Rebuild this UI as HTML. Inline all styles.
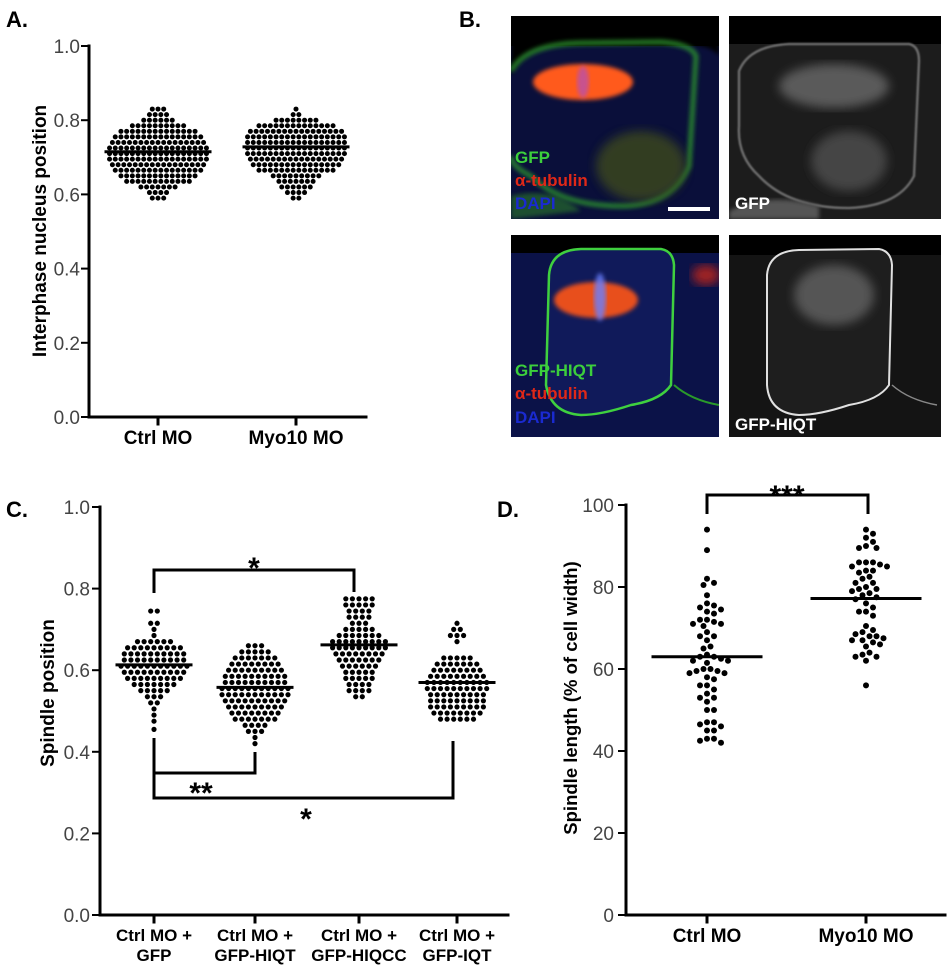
<!DOCTYPE html>
<html><head><meta charset="utf-8">
<style>
html,body{margin:0;padding:0;background:#fff;}
svg{display:block;font-family:"Liberation Sans",Arial,sans-serif;}
</style></head>
<body>
<svg id="fig" width="949" height="974" viewBox="0 0 949 974" xmlns="http://www.w3.org/2000/svg">
<defs>
<filter id="blur2"><feGaussianBlur stdDeviation="2"/></filter>
<filter id="blur5"><feGaussianBlur stdDeviation="5"/></filter>
<filter id="blur1"><feGaussianBlur stdDeviation="0.8"/></filter>
</defs>
<rect width="949" height="974" fill="#fff"/>
<text x="6" y="27" font-size="22" font-weight="bold">A.</text>
<text x="459" y="27" font-size="22" font-weight="bold">B.</text>
<text x="6" y="517" font-size="22" font-weight="bold">C.</text>
<text x="497" y="517" font-size="22" font-weight="bold">D.</text>

<g>
  <svg x="511" y="16" width="208" height="203" viewBox="0 0 208 203">
    <rect width="208" height="203" fill="#0a0f3a"/>
    <rect width="208" height="30" fill="#000"/>
    <path d="M0,60 Q10,30 60,28 L170,28 Q200,28 208,40 L208,0 L0,0Z" fill="#000" filter="url(#blur2)"/>
    <path d="M0,55 Q15,28 70,27 L150,26 Q180,28 185,40 L178,150 Q160,190 110,190 Q50,190 20,160 Q0,150 0,140" fill="none" stroke="#2e9a2e" stroke-width="5" filter="url(#blur2)" opacity="0.8"/>
    <ellipse cx="130" cy="150" rx="45" ry="35" fill="#3d4a1a" filter="url(#blur5)" opacity="0.8"/>
    <ellipse cx="72" cy="66" rx="50" ry="18" fill="#ff5a1a" filter="url(#blur2)"/>
    <ellipse cx="72" cy="66" rx="6" ry="16" fill="#b050c0" filter="url(#blur2)" opacity="0.7"/>
    <path d="M0,180 Q40,170 70,195 L0,203Z" fill="#2a7a2a" opacity="0.6" filter="url(#blur2)"/>
    <text x="4" y="147" font-size="17" font-weight="bold" fill="#3ccf3c">GFP</text>
    <text x="4" y="170" font-size="17" font-weight="bold" fill="#e02818">α-tubulin</text>
    <text x="4" y="193" font-size="17" font-weight="bold" fill="#1a2ad0">DAPI</text>
    <rect x="157" y="191" width="42" height="4" fill="#fff"/>
  </svg>
</g>
<g>
  <svg x="729" y="16" width="212" height="203" viewBox="0 0 212 203">
    <rect width="212" height="203" fill="#1c1c1c"/>
    <rect width="212" height="28" fill="#000"/>
    <ellipse cx="105" cy="70" rx="55" ry="22" fill="#5a5a5a" filter="url(#blur5)"/>
    <ellipse cx="120" cy="145" rx="38" ry="30" fill="#444" filter="url(#blur5)"/>
    <path d="M10,55 Q20,30 60,28 L180,28 Q190,30 190,45 L185,160 Q170,190 120,192 Q60,192 30,160 Q8,140 10,110Z" fill="none" stroke="#6a6a6a" stroke-width="2.5" filter="url(#blur1)"/>
    <path d="M0,195 Q40,175 90,190 L90,203 L0,203Z" fill="#555" filter="url(#blur2)"/>
    <text x="6" y="193" font-size="17" font-weight="bold" fill="#fff">GFP</text>
  </svg>
</g>
<g>
  <svg x="511" y="235" width="208" height="202" viewBox="0 0 208 202">
    <rect width="208" height="202" fill="#0b1248"/>
    <rect width="208" height="18" fill="#000"/>
    <path d="M38,40 Q40,15 70,14 L150,14 Q162,16 163,30 L160,150 Q150,165 120,170 Q90,180 70,180 Q40,178 35,150Z" fill="#101a5a" stroke="#3fd03f" stroke-width="2.5"/>
    <path d="M163,150 Q180,165 208,170" fill="none" stroke="#2a9a2a" stroke-width="2"/>
    <ellipse cx="85" cy="65" rx="42" ry="18" fill="#e8501a" filter="url(#blur2)"/>
    <ellipse cx="89" cy="62" rx="6" ry="24" fill="#6a80ff" filter="url(#blur2)" opacity="0.8"/>
    <ellipse cx="195" cy="40" rx="14" ry="10" fill="#a02020" filter="url(#blur5)"/>
    <text x="4" y="141" font-size="17" font-weight="bold" fill="#3ccf3c">GFP-HIQT</text>
    <text x="4" y="164" font-size="17" font-weight="bold" fill="#e02818">α-tubulin</text>
    <text x="4" y="188" font-size="17" font-weight="bold" fill="#1a2ad0">DAPI</text>
  </svg>
</g>
<g>
  <svg x="729" y="235" width="212" height="202" viewBox="0 0 212 202">
    <rect width="212" height="202" fill="#141414"/>
    <rect width="212" height="20" fill="#000"/>
    <path d="M38,40 Q40,16 70,15 L150,14 Q162,16 163,30 L160,150 Q150,165 120,170 Q90,180 70,180 Q40,178 38,150Z" fill="#1e1e1e" stroke="#e0e0e0" stroke-width="2"/>
    <path d="M163,150 Q180,165 208,170" fill="none" stroke="#888" stroke-width="1.5"/>
    <ellipse cx="105" cy="60" rx="40" ry="30" fill="#555" filter="url(#blur5)"/>
    <text x="6" y="195" font-size="17" font-weight="bold" fill="#fff">GFP-HIQT</text>
  </svg>
</g>
<g id="charts"></g>
</svg>
<script>
// ---------- Panel A data (rows: value level, dots per row) ----------
var aCategories = ["Ctrl MO", "Myo10 MO"];
var aLevels = [0.59,0.605,0.62,0.635,0.65,0.665,0.68,0.695,0.71,0.725,0.74,0.755,0.77,0.785,0.80,0.815,0.83];
var aCtrlCounts = [3,4,7,12,14,16,17,18,18,18,17,16,14,10,6,4,3];
var aMyoCounts  = [2,4,6,7,9,14,16,17,18,18,18,18,17,14,8,2,1];
var aMeans = [0.715, 0.728];
var aTicks = [0, 0.2, 0.4, 0.6, 0.8, 1.0];
var aTickLabels = ["0.0","0.2","0.4","0.6","0.8","1.0"];

// ---------- Panel C data ----------
var cCategories = [["Ctrl MO +","GFP"],["Ctrl MO +","GFP-HIQT"],["Ctrl MO +","GFP-HIQCC"],["Ctrl MO +","GFP-IQT"]];
var cGfpLevels = [0.455,0.475,0.49,0.505,0.52,0.535,0.55,0.565,0.58,0.595,0.61,0.625,0.64,0.655,0.67,0.685,0.70,0.715,0.745];
var cGfpCounts = [1,1,1,1,2,3,5,7,9,10,11,10,10,9,6,1,1,2,2];
var cHiqtLevels = [0.42,0.435,0.45,0.465,0.48,0.495,0.51,0.525,0.54,0.555,0.57,0.585,0.60,0.615,0.63,0.645,0.66];
var cHiqtCounts = [1,1,3,4,7,8,9,10,11,11,10,10,9,8,7,5,3];
var cHiqccLevels = [0.535,0.55,0.565,0.58,0.595,0.61,0.625,0.64,0.655,0.67,0.685,0.70,0.715,0.73,0.745,0.76,0.775];
var cHiqccCounts = [2,4,4,5,5,6,7,8,9,9,7,5,3,4,4,5,5];
var cIqtLevels = [0.48,0.495,0.51,0.525,0.54,0.555,0.57,0.585,0.60,0.615,0.63,0.67,0.685,0.70,0.715];
var cIqtCounts = [6,8,9,9,9,10,10,9,8,7,5,1,3,2,1];
var cMeans = [0.613, 0.558, 0.662, 0.57];
var cTicks = [0, 0.2, 0.4, 0.6, 0.8, 1.0];
var cTickLabels = ["0.0","0.2","0.4","0.6","0.8","1.0"];

// ---------- Panel D data ----------
var dCategories = ["Ctrl MO", "Myo10 MO"];
var dCtrl = [94,89,82,81,80.5,78,76,75.5,75,74.5,74,73.5,72,72,71.5,71,71,70.5,69,68,68,67,65.5,65,63.5,63,63,62.5,62,62,61.5,60,60,59.5,59.5,59,59,58,57.5,56,56,55,54,53,53,52,50,50,47,47,46.5,46,45,45,43,43,42.5,42];
var dMyo = [94,93,92,91,90,89.5,89.5,86,86,86,85.5,85,85,84,84,83.5,82.5,82,81,81,80,79.5,79.5,79,78.5,78,77.5,77,76,75,74,74,73,70.5,69.5,69,68.5,68,68,67.5,67,67,66.5,66,65.5,64,63.5,63,63,62,56];
var dMeans = [63, 77.2];
var dTicks = [0, 20, 40, 60, 80, 100];
var dTickLabels = ["0","20","40","60","80","100"];

var NS = "http://www.w3.org/2000/svg";
var root = document.getElementById("charts");
function mk(tag, attrs, parent) {
  var e = document.createElementNS(NS, tag);
  for (var k in attrs) e.setAttribute(k, attrs[k]);
  (parent || root).appendChild(e);
  return e;
}
function line(g, x1, y1, x2, y2, w) {
  return mk("line", {x1:x1, y1:y1, x2:x2, y2:y2, stroke:"#000", "stroke-width":w||3, "stroke-linecap":"square"}, g);
}

function yA(v){ return 417 - v*371; }
function yC(v){ return 915 - v*408; }
function yD(v){ return 915 - v*4.1; }
var xA = [158, 296], xC = [154, 255, 359, 457], xD = [707, 866];

function drawAxes(g, x0, x1, yfn, ticks, labels, labelX, catX, catLabels, catY, fs) {
  var ax = line(g, x0, yfn(ticks[ticks.length-1]), x0, yfn(ticks[0]), 3);
  
  
  var bx = line(g, x0, yfn(ticks[0]), x1, yfn(ticks[0]), 3);
  
  
  for (var i = 0; i < ticks.length; i++) {
    var ty = yfn(ticks[i]);
    var tk = line(g, x0-7, ty, x0, ty, 2);
    
    
    var t = mk("text", {x:labelX, y:ty+7, "text-anchor":"end", "font-size":19, fill:"#444"}, g);
    
    
    t.textContent = labels[i];
  }
  for (var j = 0; j < catX.length; j++) {
    var xt = line(g, catX[j], yfn(ticks[0]), catX[j], yfn(ticks[0])+7, 3);
    
    
    var lab = catLabels[j];
    var lines = Array.isArray(lab) ? lab : [lab];
    for (var k = 0; k < lines.length; k++) {
      var ct = mk("text", {x:catX[j], y:catY + k*20, "text-anchor":"middle", "font-size":fs, "font-weight":"bold"}, g);
      
      
      ct.textContent = lines[k];
    }
  }
}
function yTitle(g, x, y, txt, fs) {
  var t = mk("text", {x:x, y:y, "text-anchor":"middle", "font-size":fs, "font-weight":"bold", transform:"rotate(-90 "+x+" "+y+")"}, g);
  
  
  t.textContent = txt;
}
function rowDots(g, cx, levels, counts, yfn, spacing, r, name) {
  for (var i = 0; i < levels.length; i++) {
    var n = counts[i];
    for (var k = 0; k < n; k++) {
      var c = mk("circle", {cx: cx + (k - (n-1)/2)*spacing, cy: yfn(levels[i]), r: r, fill:"#000"}, g);
      
      
    }
  }
}
function swarmDots(g, cx, vals, yfn, r, name) {
  var placed = [];
  var sorted = vals.slice().sort(function(a,b){return b-a;});
  var d = 2*r + 1;
  for (var i = 0; i < sorted.length; i++) {
    var y = yfn(sorted[i]);
    var x = cx;
    for (var s = 0; s < 60; s++) {
      var off = (s === 0) ? 0 : (Math.ceil(s/2) * (s % 2 ? 1 : -1)) * (d/2);
      var tx = cx + off, ok = true;
      for (var p = 0; p < placed.length; p++) {
        var dx = placed[p][0]-tx, dy = placed[p][1]-y;
        if (dx*dx + dy*dy < d*d) { ok = false; break; }
      }
      if (ok) { x = tx; break; }
    }
    placed.push([x, y]);
    var c = mk("circle", {cx:x, cy:y, r:r, fill:"#000"}, g);
    
    
  }
}
function meanLine(g, cx, half, y) {
  var m = line(g, cx-half, y, cx+half, y, 3);
  
  
}
function star(g, x, y, txt) {
  var t = mk("text", {x:x, y:y, "text-anchor":"middle", "font-size":30, "font-weight":"bold"}, g);
  
  
  t.textContent = txt;
}
function bracket(g, pts) {
  var p = mk("polyline", {points: pts, fill:"none", stroke:"#000", "stroke-width":3}, g);
  
  
}

// ---- Panel A ----
var gA = mk("g", {});


drawAxes(gA, 89, 366, yA, aTicks, aTickLabels, 80, xA, aCategories, 444, 19);
yTitle(gA, 46, 231, "Interphase nucleus position", 19);
rowDots(gA, xA[0], aLevels, aCtrlCounts, yA, 5.7, 2.5, "dot-ctrl-mo");
rowDots(gA, xA[1], aLevels, aMyoCounts, yA, 5.7, 2.5, "dot-myo10-mo");
meanLine(gA, xA[0], 52, yA(aMeans[0]));
meanLine(gA, xA[1], 52, yA(aMeans[1]));

// ---- Panel C ----
var gC = mk("g", {});


drawAxes(gC, 100, 508, yC, cTicks, cTickLabels, 90, xC, cCategories, 941, 17);
yTitle(gC, 54, 693, "Spindle position", 19);
rowDots(gC, xC[0], cGfpLevels, cGfpCounts, yC, 6.6, 2.6, "dot-gfp");
rowDots(gC, xC[1], cHiqtLevels, cHiqtCounts, yC, 6.6, 2.6, "dot-gfp-hiqt");
rowDots(gC, xC[2], cHiqccLevels, cHiqccCounts, yC, 6.6, 2.6, "dot-gfp-hiqcc");
rowDots(gC, xC[3], cIqtLevels, cIqtCounts, yC, 6.6, 2.6, "dot-gfp-iqt");
for (var i = 0; i < cMeans.length; i++) meanLine(gC, xC[i], 37, yC(cMeans[i]));
bracket(gC, "154,593 154,570 354,570 354,592");
star(gC, 254, 578, "*");
bracket(gC, "154,738 154,773 255,773 255,752");
star(gC, 201, 803, "**");
bracket(gC, "154,773 154,798 453,798 453,741");
star(gC, 306, 829, "*");

// ---- Panel D ----
var gD = mk("g", {});


drawAxes(gD, 626, 945, yD, dTicks, dTickLabels, 614, xD, dCategories, 942, 19);
yTitle(gD, 577, 698, "Spindle length (% of cell width)", 18.5);
swarmDots(gD, xD[0], dCtrl, yD, 3, "dot-ctrl-mo");
swarmDots(gD, xD[1], dMyo, yD, 3, "dot-myo10-mo");
meanLine(gD, xD[0], 54, yD(dMeans[0]));
meanLine(gD, xD[1], 54, yD(dMeans[1]));
bracket(gD, "707,514 707,495 868,495 868,514");
star(gD, 787, 506, "***");
</script>
</body></html>
